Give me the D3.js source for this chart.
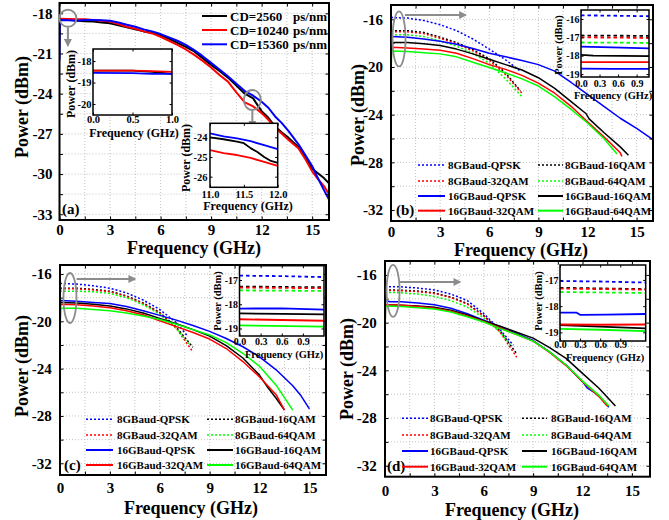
<!DOCTYPE html>
<html>
<head>
<meta charset="utf-8">
<script src="https://cdn.jsdelivr.net/npm/d3@7"></script>
<style>
  body { margin: 0; background: #fff; }
  svg { display: block; }
</style>
</head>
<body>
<svg id="chart" width="669" height="520"></svg>
<script>
// ---------- Panel (a): received power spectra for three CD values ----------
const cdLabels = ['CD=2560', 'CD=10240', 'CD=15360'];
const cdUnit = 'ps/nm';
const cd2560 = [[0,-18.45],[0.5,-18.45],[1,-18.55],[1.5,-18.6],[2,-18.62],[2.5,-18.68],[3,-18.75],[3.5,-18.9],[4,-19.05],[4.5,-19.2],[5,-19.35],[5.5,-19.45],[6,-19.65],[6.5,-19.9],[7,-20.2],[7.5,-20.5],[8,-20.85],[8.5,-21.35],[9,-21.85],[9.5,-22.3],[10,-22.8],[10.5,-23.4],[11,-24.0],[11.5,-24.35],[11.65,-24.65],[12,-25.3],[12.4,-25.8],[12.8,-26.45],[13.2,-26.9],[13.6,-27.3],[14.2,-28.0],[14.6,-28.7],[15,-29.6],[15.3,-29.9],[15.7,-30.3],[16,-30.7]];
const cd10240 = [[0,-18.4],[0.5,-18.42],[1,-18.45],[1.5,-18.45],[2,-18.5],[2.5,-18.55],[3,-18.62],[3.5,-18.8],[4,-19.0],[4.5,-19.15],[5,-19.35],[5.5,-19.5],[6,-19.75],[6.5,-20.05],[7,-20.35],[7.5,-20.7],[8,-21.1],[8.5,-21.55],[9,-22.05],[9.5,-22.6],[10,-23.1],[10.5,-23.9],[11,-24.65],[11.5,-24.95],[12,-25.45],[12.4,-25.95],[12.8,-26.55],[13.2,-27.0],[13.6,-27.45],[14.2,-28.1],[14.6,-28.9],[15,-29.8],[15.3,-30.3],[15.7,-30.9],[16,-31.5]];
const cd15360 = [[0,-21.5],[0.03,-18.5],[0.5,-18.52],[1,-18.55],[1.5,-18.5],[2,-18.5],[2.5,-18.52],[3,-18.55],[3.5,-18.68],[4,-18.85],[4.5,-19.0],[5,-19.2],[5.5,-19.35],[6,-19.55],[6.5,-19.8],[7,-20.05],[7.5,-20.35],[8,-20.75],[8.5,-21.2],[9,-21.7],[9.5,-22.2],[10,-22.7],[10.5,-23.25],[11,-23.8],[11.5,-24.15],[12,-24.6],[12.4,-25.05],[12.8,-25.7],[13.2,-26.2],[13.6,-26.8],[14.2,-27.8],[14.6,-28.6],[15,-29.4],[15.3,-30.2],[15.7,-31.2],[16,-31.9]];
// zoom 0-1 GHz
const cd2560Low = [[0,-18.45],[0.25,-18.45],[0.5,-18.45],[0.75,-18.5],[1,-18.6]];
const cd10240Low = [[0,-18.45],[0.5,-18.45],[0.75,-18.47],[1,-18.5]];
const cd15360Low = [[0,-18.55],[0.5,-18.56],[0.75,-18.6],[1,-18.6]];
// zoom 11-12 GHz
const cd2560Mid = [[11,-24.0],[11.2,-24.1],[11.4,-24.22],[11.5,-24.3],[11.6,-24.55],[11.7,-24.75],[11.8,-25.0],[11.9,-25.2],[12,-25.3]];
const cd10240Mid = [[11,-24.65],[11.2,-24.8],[11.4,-24.9],[11.6,-25.05],[11.8,-25.25],[12,-25.45]];
const cd15360Mid = [[11,-23.8],[11.2,-23.95],[11.4,-24.05],[11.6,-24.2],[11.8,-24.4],[12,-24.6]];

// ---------- Panels (b)-(d): 8/16 GBaud signals, four formats ----------
const formatLabels = ['8GBaud-QPSK','8GBaud-16QAM','8GBaud-32QAM','8GBaud-64QAM',
                      '16GBaud-QPSK','16GBaud-16QAM','16GBaud-32QAM','16GBaud-64QAM'];

// (b)
const b8QPSK  = [[0,-15.85],[1,-15.9],[2,-16.1],[3,-16.45],[4,-16.95],[5,-17.65],[6,-18.5],[7,-19.4],[7.9,-20.35]];
const b8QAM16 = [[0,-16.95],[1,-16.95],[2,-17.1],[3,-17.5],[4,-17.95],[5,-18.55],[6,-19.3],[7,-20.5],[7.9,-22.0]];
const b8QAM32 = [[0,-17.05],[1,-17.05],[2,-17.2],[3,-17.6],[4,-18.05],[5,-18.65],[6,-19.45],[7,-20.65],[8,-22.2]];
const b8QAM64 = [[0,-17.3],[1,-17.3],[2,-17.45],[3,-17.8],[4,-18.25],[5,-18.85],[6,-19.7],[7,-21.0],[8,-22.5]];
const b16QPSK  = [[0,-17.45],[1,-17.5],[2,-17.65],[3,-17.85],[4,-18.1],[5,-18.45],[6,-18.85],[7,-19.15],[8,-19.45],[9,-19.8],[10,-20.35],[11,-21.3],[12,-22.3],[13,-23.3],[14,-24.3],[15,-25.15],[16,-26.1]];
const b16QAM16 = [[0,-21.0],[0.03,-17.95],[1,-17.95],[2,-18.05],[3,-18.2],[4,-18.5],[5,-18.9],[6,-19.35],[7,-19.8],[8,-20.25],[9,-20.9],[10,-21.8],[11,-22.9],[11.9,-23.9],[12.1,-24.35],[13,-25.5],[14,-26.7],[14.5,-27.4]];
const b16QAM32 = [[0,-21.3],[0.03,-18.35],[1,-18.4],[2,-18.5],[3,-18.6],[4,-18.85],[5,-19.3],[6,-19.8],[7,-20.2],[8,-20.7],[9,-21.35],[10,-22.2],[11,-23.3],[12,-24.6],[13,-25.85],[14,-27.2],[14.1,-27.5]];
const b16QAM64 = [[0,-21.8],[0.03,-18.65],[1,-18.7],[2,-18.8],[3,-18.9],[4,-19.15],[5,-19.6],[6,-20.05],[7,-20.5],[8,-21.0],[9,-21.6],[10,-22.5],[11,-23.55],[12,-24.7],[13,-26.0],[13.8,-27.3]];
const b8QPSKLow  = [[0,-15.8],[0.5,-15.82],[1.1,-15.85]];
const b8QAM16Low = [[0,-16.9],[1.1,-16.92]];
const b8QAM32Low = [[0,-17.0],[1.1,-17.03]];
const b8QAM64Low = [[0,-17.28],[1.1,-17.3]];
const b16QPSKLow  = [[0,-17.5],[0.5,-17.55],[1.1,-17.6]];
const b16QAM16Low = [[0,-17.95],[0.2,-18.0],[1.1,-18.02]];
const b16QAM32Low = [[0,-18.35],[1.1,-18.35]];
const b16QAM64Low = [[0,-18.7],[0.5,-18.72],[1.1,-18.72]];

// (c)
const c8QPSK  = [[0,-16.8],[1,-16.85],[2,-17.0],[3,-17.2],[4,-17.6],[5,-18.2],[6,-19.0],[7,-20.1],[7.7,-21.3]];
const c8QAM16 = [[0,-17.2],[1,-17.2],[2,-17.3],[3,-17.45],[4,-17.85],[5,-18.45],[6,-19.25],[7,-20.5],[8,-22.2]];
const c8QAM32 = [[0,-17.25],[1,-17.25],[2,-17.35],[3,-17.5],[4,-17.9],[5,-18.5],[6,-19.3],[7,-20.6],[8,-22.6]];
const c8QAM64 = [[0,-17.45],[1,-17.45],[2,-17.5],[3,-17.65],[4,-18.0],[5,-18.6],[6,-19.4],[7,-20.6],[7.8,-22.0]];
const c16QPSK  = [[0,-21.6],[0.03,-18.25],[1,-18.3],[2,-18.4],[3,-18.5],[4,-18.75],[5,-19.1],[6,-19.5],[7,-19.9],[8,-20.35],[9,-20.85],[10,-21.45],[11,-22.15],[12,-23.0],[13,-24.1],[14,-25.45],[14.5,-26.3],[15,-27.4]];
const c16QAM16 = [[0,-18.4],[1,-18.45],[2,-18.55],[3,-18.7],[4,-18.95],[5,-19.3],[6,-19.75],[7,-20.2],[8,-20.7],[9,-21.25],[10,-22.05],[11,-23.1],[12,-24.55],[12.5,-25.6],[13,-26.5],[13.5,-27.5]];
const c16QAM32 = [[0,-21.9],[0.03,-18.55],[1,-18.6],[2,-18.7],[3,-18.85],[4,-19.1],[5,-19.45],[6,-19.95],[7,-20.45],[8,-20.95],[9,-21.5],[10,-22.3],[11,-23.4],[12,-24.7],[13,-26.2],[13.5,-27.5]];
const c16QAM64 = [[0,-21.7],[0.03,-18.9],[1,-18.9],[2,-19.0],[3,-19.1],[4,-19.3],[5,-19.55],[6,-19.85],[7,-20.25],[8,-20.7],[9,-21.15],[10,-21.8],[11,-22.7],[12,-23.8],[13,-25.4],[14,-27.5]];
const c8QPSKLow  = [[0,-16.82],[0.6,-16.84],[1.2,-16.88]];
const c8QAM16Low = [[0,-17.27],[1.2,-17.3]];
const c8QAM32Low = [[0,-17.31],[1.2,-17.34]];
const c8QAM64Low = [[0,-17.43],[1.2,-17.45]];
const c16QPSKLow  = [[0,-18.18],[0.6,-18.17],[1.2,-18.22]];
const c16QAM16Low = [[0,-18.38],[0.6,-18.4],[1.2,-18.42]];
const c16QAM32Low = [[0,-18.62],[1.2,-18.68]];
const c16QAM64Low = [[0,-18.87],[1.2,-18.92]];

// (d)
const d8QPSK  = [[0,-16.98],[1,-17.0],[2,-17.1],[3,-17.26],[4,-17.6],[5,-18.15],[6,-19.25],[7,-20.6],[7.8,-21.9]];
const d8QAM16 = [[0,-17.26],[1,-17.28],[2,-17.35],[3,-17.5],[4,-17.85],[5,-18.4],[6,-19.4],[7,-20.7],[8,-22.6]];
const d8QAM32 = [[0,-17.3],[1,-17.32],[2,-17.4],[3,-17.55],[4,-17.9],[5,-18.45],[6,-19.45],[7,-20.8],[8,-22.9]];
const d8QAM64 = [[0,-17.45],[1,-17.5],[2,-17.6],[3,-17.8],[4,-18.15],[5,-18.7],[6,-19.6],[7,-20.8],[7.7,-22.0]];
const d16QPSK  = [[0,-21.5],[0.03,-18.15],[0.3,-18.25],[1,-18.25],[2,-18.35],[3,-18.5],[4,-18.8],[5,-19.25],[6,-19.8],[7,-20.35],[8,-20.9],[9,-21.5],[10,-22.45],[11,-23.55],[12,-24.95],[12.3,-25.5],[13,-26.1],[13.6,-27.1]];
const d16QAM16 = [[0,-18.5],[1,-18.55],[2,-18.6],[3,-18.7],[4,-18.95],[5,-19.35],[6,-19.85],[7,-20.3],[8,-20.8],[9,-21.3],[10,-22.1],[11,-23.0],[12,-24.25],[13,-25.5],[14,-27.0]];
const d16QAM32 = [[0,-21.8],[0.03,-18.5],[1,-18.55],[2,-18.65],[3,-18.8],[4,-19.05],[5,-19.45],[6,-19.9],[7,-20.45],[8,-21.0],[9,-21.55],[10,-22.5],[11,-23.6],[12,-24.95],[13,-26.2],[13.5,-27.0]];
const d16QAM64 = [[0,-21.6],[0.03,-18.6],[1,-18.65],[2,-18.75],[3,-18.85],[4,-19.1],[5,-19.5],[6,-19.95],[7,-20.5],[8,-21.0],[9,-21.55],[10,-22.45],[11,-23.55],[12,-24.9],[13,-26.1],[13.6,-27.0]];
const d8QPSKLow  = [[0,-17.04],[0.6,-17.06],[1.28,-17.1]];
const d8QAM16Low = [[0,-17.3],[1.28,-17.35]];
const d8QAM32Low = [[0,-17.33],[1.28,-17.37]];
const d8QAM64Low = [[0,-17.46],[1.28,-17.5]];
const d16QPSKLow  = [[0,-18.25],[0.25,-18.25],[0.3,-18.33],[0.7,-18.32],[1.28,-18.3]];
const d16QAM16Low = [[0,-18.72],[0.6,-18.78],[1.28,-18.85]];
const d16QAM32Low = [[0,-18.7],[0.6,-18.71],[1.28,-18.7]];
const d16QAM64Low = [[0,-18.87],[0.6,-18.9],[1.28,-18.95]];

// ---------- drawing ----------
const FONT = '"Liberation Serif","Times New Roman",serif';
const BLUE = '#0000ff', BLACK = '#000000', RED = '#ff0000', GREEN = '#00ff00', GRAY = '#8c8c8c';
const formatColors = [BLUE, BLACK, RED, GREEN, BLUE, BLACK, RED, GREEN];
const svg = d3.select('#chart');

svg.append('defs').append('marker')
  .attr('id', 'arrowHead').attr('viewBox', '0 0 10 10')
  .attr('refX', 8).attr('refY', 5).attr('markerWidth', 4).attr('markerHeight', 4)
  .attr('orient', 'auto')
  .append('path').attr('d', 'M0,0L10,5L0,10z').attr('fill', GRAY);

const str = d => String(d);
const fix1 = d => d.toFixed(1);

function styleAxisText(sel, size) {
  sel.attr('font-family', FONT).attr('font-size', size).attr('font-weight', 'bold');
  sel.selectAll('text').attr('fill', '#000');
  sel.select('.domain').remove();
}

// inward tick marks on all four sides
function innerTicks(g, x, y, box, xv, yv, len, width) {
  const mk = (axis, tr) => {
    const a = g.append('g').attr('transform', tr).call(axis.tickSize(-len).tickFormat(''));
    a.select('.domain').remove();
    a.selectAll('line').attr('stroke', '#000').attr('stroke-width', width);
  };
  mk(d3.axisBottom(x).tickValues(xv), `translate(0,${box.b})`);
  mk(d3.axisTop(x).tickValues(xv), `translate(0,${box.t})`);
  mk(d3.axisLeft(y).tickValues(yv), `translate(${box.l},0)`);
  mk(d3.axisRight(y).tickValues(yv), `translate(${box.r},0)`);
}

function drawCurves(g, x, y, series, clipId) {
  const line = d3.line().x(d => x(d[0])).y(d => y(d[1]));
  const cg = g.append('g').attr('clip-path', `url(#${clipId})`);
  series.forEach(s => {
    cg.append('path').attr('d', line(s.data)).attr('fill', 'none')
      .attr('stroke', s.color).attr('stroke-width', s.width)
      .attr('stroke-dasharray', s.dash || null)
      .attr('stroke-linejoin', 'round');
  });
}

function mainPanel(c) {
  const x = d3.scaleLinear().domain(c.xDomain).range([c.l, c.r]);
  const y = d3.scaleLinear().domain(c.yDomain).range([c.b, c.t]);
  const g = svg.append('g');
  const clipId = 'clip-' + c.name;
  g.append('clipPath').attr('id', clipId).append('rect')
    .attr('x', c.l).attr('y', c.t).attr('width', c.r - c.l).attr('height', c.b - c.t);

  // dotted grid
  const grid = g.append('g').attr('stroke', '#b4b4b4').attr('stroke-width', 0.8).attr('stroke-dasharray', '1,2');
  c.xGrid.forEach(v => grid.append('line').attr('x1', x(v)).attr('x2', x(v)).attr('y1', c.t).attr('y2', c.b));
  c.yGrid.forEach(v => grid.append('line').attr('y1', y(v)).attr('y2', y(v)).attr('x1', c.l).attr('x2', c.r));

  drawCurves(g, x, y, c.series, clipId);
  innerTicks(g, x, y, c, c.xGrid, c.yGrid, 3.5, 1);

  g.append('rect').attr('x', c.l).attr('y', c.t).attr('width', c.r - c.l).attr('height', c.b - c.t)
    .attr('fill', 'none').attr('stroke', '#000').attr('stroke-width', 2);

  g.append('g').attr('transform', `translate(0,${c.b})`)
    .call(d3.axisBottom(x).tickValues(c.xTicks).tickSize(0).tickPadding(c.xPad).tickFormat(str))
    .call(s => styleAxisText(s, 15));
  g.append('g').attr('transform', `translate(${c.l},0)`)
    .call(d3.axisLeft(y).tickValues(c.yTicks).tickSize(0).tickPadding(c.yPad).tickFormat(str))
    .call(s => styleAxisText(s, 15));

  g.append('text').attr('x', c.xTitle[0]).attr('y', c.xTitle[1]).attr('text-anchor', 'middle')
    .attr('font-family', FONT).attr('font-weight', 'bold').attr('font-size', 18).text('Frequency (GHz)');
  g.append('text').attr('transform', `translate(${c.yTitle[0]},${c.yTitle[1]}) rotate(-90)`).attr('text-anchor', 'middle')
    .attr('font-family', FONT).attr('font-weight', 'bold').attr('font-size', 18).text('Power (dBm)');
  g.append('text').attr('x', c.tag[0]).attr('y', c.tag[1])
    .attr('font-family', FONT).attr('font-weight', 'bold').attr('font-size', 15).text(c.tagText);

  // highlight ellipse and arrow
  c.marks.forEach(m => {
    g.append('ellipse').attr('cx', x(m.cx)).attr('cy', y(m.cy)).attr('rx', m.rx).attr('ry', m.ry)
      .attr('fill', 'none').attr('stroke', GRAY).attr('stroke-width', 1.8);
    g.append('line').attr('x1', x(m.from[0])).attr('y1', y(m.from[1]))
      .attr('x2', x(m.to[0])).attr('y2', y(m.to[1]))
      .attr('stroke', GRAY).attr('stroke-width', 2).attr('marker-end', 'url(#arrowHead)');
  });
  return { x, y, g };
}

function insetPanel(c) {
  const x = d3.scaleLinear().domain(c.xDomain).range([c.l, c.r]);
  const y = d3.scaleLinear().domain(c.yDomain).range([c.b, c.t]);
  const g = svg.append('g');
  const clipId = 'clip-' + c.name;
  g.append('clipPath').attr('id', clipId).append('rect')
    .attr('x', c.l).attr('y', c.t).attr('width', c.r - c.l).attr('height', c.b - c.t);
  g.append('rect').attr('x', c.l).attr('y', c.t).attr('width', c.r - c.l).attr('height', c.b - c.t).attr('fill', '#fff');
  drawCurves(g, x, y, c.series, clipId);
  innerTicks(g, x, y, c, c.xTicks, c.yTicks, 2.5, 1);
  g.append('rect').attr('x', c.l).attr('y', c.t).attr('width', c.r - c.l).attr('height', c.b - c.t)
    .attr('fill', 'none').attr('stroke', '#000').attr('stroke-width', 1.5);
  g.append('g').attr('transform', `translate(0,${c.b})`)
    .call(d3.axisBottom(x).tickValues(c.xTicks).tickSize(0).tickPadding(c.xPad).tickFormat(fix1))
    .call(s => styleAxisText(s, c.tickFont));
  g.append('g').attr('transform', `translate(${c.l},0)`)
    .call(d3.axisLeft(y).tickValues(c.yTicks).tickSize(0).tickPadding(c.yPad).tickFormat(str))
    .call(s => styleAxisText(s, c.tickFont));
  g.append('text').attr('x', c.xTitle[0]).attr('y', c.xTitle[1]).attr('text-anchor', 'middle')
    .attr('font-family', FONT).attr('font-weight', 'bold').attr('font-size', c.titleFont).text('Frequency (GHz)');
  g.append('text').attr('transform', `translate(${c.yTitle[0]},${c.yTitle[1]}) rotate(-90)`).attr('text-anchor', 'middle')
    .attr('font-family', FONT).attr('font-weight', 'bold').attr('font-size', c.titleFont).text('Power (dBm)');
}

function formatSeries(arrs, width, colors) {
  return arrs.map((d, i) => ({
    data: d, color: (colors || formatColors)[i], width: width,
    dash: i < 4 ? '2,2' : null
  }));
}
function insetSeries(arrs, colors) {
  return arrs.map((d, i) => ({
    data: d, color: (colors || formatColors)[i], width: 1.8,
    dash: i < 4 ? '3.5,3' : null
  }));
}

function formatLegend(lg) {
  const g = svg.append('g');
  formatLabels.forEach((lab, i) => {
    const row = Math.floor(i / 2), col = i % 2;
    const yy = lg.rows[row];
    const [x0, x1, tx] = lg.cols[col];
    g.append('line').attr('x1', x0).attr('x2', x1).attr('y1', yy).attr('y2', yy)
      .attr('stroke', formatColors[i]).attr('stroke-width', i < 4 ? 1.5 : 2)
      .attr('stroke-dasharray', i < 4 ? '2,2' : null);
    g.append('text').attr('x', tx).attr('y', yy + 4).attr('font-family', FONT)
      .attr('font-weight', 'bold').attr('font-size', 11).text(lab);
  });
}

const gx = d3.range(0, 16.01, 1.5);

// ----- (a) -----
mainPanel({
  name: 'a', l: 59.5, t: 3, r: 329, b: 220,
  xDomain: [0, 16], yDomain: [-33.43, -17.23],
  xGrid: gx, yGrid: d3.range(-33, -17.9, 1.5),
  xTicks: [0, 3, 6, 9, 12, 15], yTicks: [-18, -21, -24, -27, -30, -33],
  xPad: 4.5, yPad: 7,
  xTitle: [194, 254], yTitle: [28, 107], tag: [62, 214], tagText: '(a)',
  series: [
    { data: cd2560, color: BLACK, width: 2 },
    { data: cd10240, color: RED, width: 2 },
    { data: cd15360, color: BLUE, width: 2 }
  ],
  marks: [
    { cx: 0.5, cy: -18.37, rx: 8.5, ry: 8.5, from: [0.5, -19.05], to: [0.5, -20.4] },
    { cx: 11.45, cy: -24.47, rx: 8.5, ry: 10, from: [11.45, -25.25], to: [11.45, -26.5] }
  ]
});
insetPanel({
  name: 'a1', l: 93, t: 49, r: 172, b: 115,
  xDomain: [0, 1], yDomain: [-20.51, -17.44],
  xTicks: [0, 0.5, 1], yTicks: [-18, -19, -20], xPad: 1, yPad: 1.5,
  tickFont: 10.5, titleFont: 12, xTitle: [134, 137], yTitle: [75, 84],
  series: [
    { data: cd2560Low, color: BLACK, width: 1.8 },
    { data: cd10240Low, color: RED, width: 1.8 },
    { data: cd15360Low, color: BLUE, width: 1.8 }
  ]
});
insetPanel({
  name: 'a2', l: 210, t: 123.3, r: 277.7, b: 187.3,
  xDomain: [11, 12], yDomain: [-26.54, -23.29],
  xTicks: [11, 11.5, 12], yTicks: [-24, -25, -26], xPad: 3, yPad: 2.5,
  tickFont: 10.5, titleFont: 12, xTitle: [248, 210], yTitle: [190, 158],
  series: [
    { data: cd2560Mid, color: BLACK, width: 1.8 },
    { data: cd10240Mid, color: RED, width: 1.8 },
    { data: cd15360Mid, color: BLUE, width: 1.8 }
  ]
});
// legend (a)
(function () {
  const g = svg.append('g');
  const cols = [BLACK, RED, BLUE];
  const rows = [16, 30, 44.3];
  cdLabels.forEach((lab, i) => {
    g.append('line').attr('x1', 202).attr('x2', 227).attr('y1', rows[i]).attr('y2', rows[i])
      .attr('stroke', cols[i]).attr('stroke-width', 2);
    g.append('text').attr('x', 230).attr('y', rows[i] + 4.5).attr('font-family', FONT)
      .attr('font-weight', 'bold').attr('font-size', 13).text(lab);
    g.append('text').attr('x', 293).attr('y', rows[i] + 4.5).attr('font-family', FONT)
      .attr('font-weight', 'bold').attr('font-size', 13).text(cdUnit);
  });
})();

// ----- (b) -----
mainPanel({
  name: 'b', l: 391, t: 5, r: 653, b: 221,
  xDomain: [0, 16], yDomain: [-32.92, -14.8],
  xGrid: gx, yGrid: d3.range(-32, -14.9, 2),
  xTicks: [0, 3, 6, 9, 12, 15], yTicks: [-16, -20, -24, -28, -32],
  xPad: 5.5, yPad: 8,
  xTitle: [521, 256], yTitle: [364, 115], tag: [396, 215], tagText: '(b)',
  series: formatSeries([b8QPSK, b8QAM16, b8QAM32, b8QAM64, b16QPSK, b16QAM16, b16QAM32, b16QAM64], 1.5),
  marks: [{ cx: 0.49, cy: -17.65, rx: 6.5, ry: 27.5, from: [0.85, -15.64], to: [4.55, -15.64] }]
});
insetPanel({
  name: 'b1', l: 581, t: 10, r: 649, b: 77,
  xDomain: [0, 1.1], yDomain: [-19.16, -15.51],
  xTicks: [0, 0.3, 0.6, 0.9], yTicks: [-16, -17, -18, -19], xPad: 2.5, yPad: 1.5,
  tickFont: 10, titleFont: 10.5, xTitle: [613, 99], yTitle: [562, 45],
  series: insetSeries([b8QPSKLow, b8QAM16Low, b8QAM32Low, b8QAM64Low, b16QPSKLow, b16QAM16Low, b16QAM32Low, b16QAM64Low],
    [BLUE, BLACK, RED, GREEN, BLUE, BLACK, RED, BLUE])
});
formatLegend({ rows: [165, 181, 196, 210.7], cols: [[418, 445, 448], [538, 563, 565]] });

// ----- (c) -----
mainPanel({
  name: 'c', l: 60, t: 265, r: 326, b: 475,
  xDomain: [0, 16], yDomain: [-32.99, -15.24],
  xGrid: gx, yGrid: d3.range(-32, -15.3, 2),
  xTicks: [0, 3, 6, 9, 12, 15], yTicks: [-16, -20, -24, -28, -32],
  xPad: 7.3, yPad: 8.3,
  xTitle: [191, 514], yTitle: [27.7, 366], tag: [64, 470], tagText: '(c)',
  series: formatSeries([c8QPSK, c8QAM16, c8QAM32, c8QAM64, c16QPSK, c16QAM16, c16QAM32, c16QAM64], 1.5),
  marks: [{ cx: 0.6, cy: -18.03, rx: 6.5, ry: 25, from: [1.0, -16.42], to: [4.5, -16.42] }]
});
insetPanel({
  name: 'c1', l: 239.5, t: 265.7, r: 324, b: 336,
  xDomain: [0, 1.2], yDomain: [-19.31, -16.41],
  xTicks: [0, 0.3, 0.6, 0.9], yTicks: [-17, -18, -19], xPad: 2, yPad: 1.5,
  tickFont: 10, titleFont: 10.5, xTitle: [284, 358], yTitle: [221, 301],
  series: insetSeries([c8QPSKLow, c8QAM16Low, c8QAM32Low, c8QAM64Low, c16QPSKLow, c16QAM16Low, c16QAM32Low, c16QAM64Low])
});
formatLegend({ rows: [419.3, 435, 450, 465], cols: [[86, 113, 117], [207, 233, 235]] });

// ----- (d) -----
mainPanel({
  name: 'd', l: 385, t: 261, r: 650, b: 476.7,
  xDomain: [0, 16.1], yDomain: [-32.92, -14.83],
  xGrid: gx, yGrid: d3.range(-32, -14.9, 2),
  xTicks: [0, 3, 6, 9, 12, 15], yTicks: [-16, -20, -24, -28, -32],
  xPad: 8.6, yPad: 8.3,
  xTitle: [512, 516], yTitle: [352.7, 369], tag: [387, 471], tagText: '(d)',
  series: formatSeries([d8QPSK, d8QAM16, d8QAM32, d8QAM64, d16QPSK, d16QAM16, d16QAM32, d16QAM64], 1.5),
  marks: [{ cx: 0.49, cy: -17.34, rx: 6.5, ry: 26, from: [0.9, -16.59], to: [4.55, -16.59] }]
});
insetPanel({
  name: 'd1', l: 560, t: 265, r: 645.7, b: 341,
  xDomain: [0, 1.28], yDomain: [-19.33, -16.43],
  xTicks: [0, 0.3, 0.6, 0.9], yTicks: [-17, -18, -19], xPad: 0, yPad: 1.5,
  tickFont: 10, titleFont: 10.5, xTitle: [605, 360.5], yTitle: [542, 301],
  series: insetSeries([d8QPSKLow, d8QAM16Low, d8QAM32Low, d8QAM64Low, d16QPSKLow, d16QAM16Low, d16QAM32Low, d16QAM64Low])
});
formatLegend({ rows: [418.3, 435, 451, 466.7], cols: [[402, 428, 430], [522, 547, 551]] });
</script>
</body>
</html>
